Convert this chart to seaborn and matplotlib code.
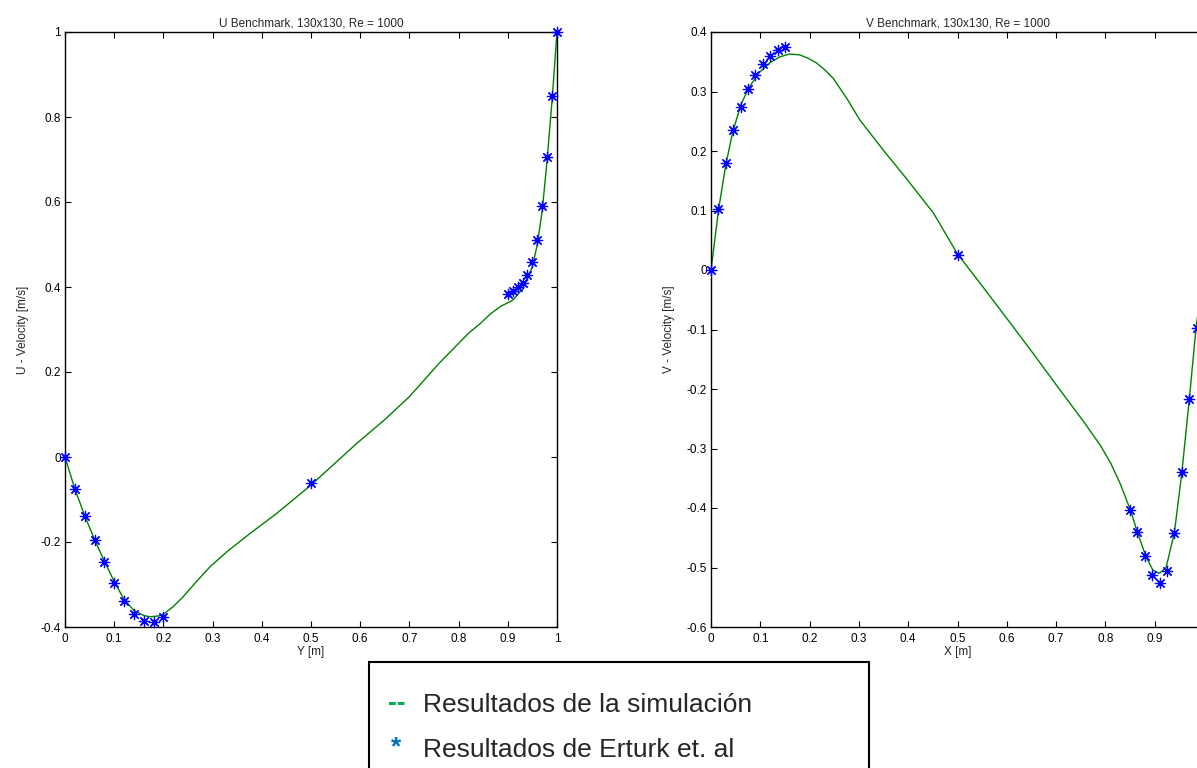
import numpy as np
import pandas as pd
import seaborn as sns
import matplotlib
matplotlib.use("Agg")
import matplotlib.pyplot as plt
from matplotlib.patches import Rectangle
from matplotlib.ticker import FuncFormatter, MultipleLocator

# ---------------- data ----------------
# Erturk et al. benchmark, Re = 1000
u_ref_y = [0.0, 0.02, 0.04, 0.06, 0.08, 0.10, 0.12, 0.14, 0.16, 0.18, 0.20, 0.50,
           0.90, 0.91, 0.92, 0.93, 0.94, 0.95, 0.96, 0.97, 0.98, 0.99, 1.00]
u_ref_val = [0.0, -0.0757, -0.1392, -0.1951, -0.2472, -0.2960, -0.3381, -0.3690,
             -0.3854, -0.3876, -0.3756, -0.0620, 0.3838, 0.3913, 0.3993, 0.4101,
             0.4276, 0.4582, 0.5102, 0.5917, 0.7065, 0.8486, 1.0]
v_ref_x = [0.0, 0.015, 0.03, 0.045, 0.06, 0.075, 0.09, 0.105, 0.12, 0.135, 0.15, 0.5,
           0.85, 0.865, 0.88, 0.895, 0.91, 0.925, 0.94, 0.955, 0.97, 0.985, 1.0]
v_ref_val = [0.0, 0.1019, 0.1792, 0.2349, 0.2746, 0.3041, 0.3273, 0.3460, 0.3605,
             0.3705, 0.3756, 0.0258, -0.4028, -0.4407, -0.4803, -0.5132, -0.5263,
             -0.5052, -0.4417, -0.3400, -0.2173, -0.0973, 0.0]

# simulation (130x130)
u_sim_y = [0.0, 0.02, 0.04, 0.06, 0.08, 0.10, 0.12, 0.14, 0.16, 0.173, 0.19, 0.20,
           0.22, 0.24, 0.265, 0.295, 0.33, 0.376, 0.43, 0.50, 0.593, 0.65, 0.70,
           0.76, 0.82, 0.845, 0.865, 0.885, 0.91, 0.93, 0.95, 0.96, 0.97, 0.98,
           0.99, 1.0]
u_sim_val = [0.0, -0.075, -0.138, -0.194, -0.245, -0.293, -0.335, -0.361, -0.373,
             -0.376, -0.374, -0.370, -0.352, -0.329, -0.296, -0.258, -0.222, -0.180,
             -0.133, -0.066, 0.032, 0.088, 0.142, 0.220, 0.291, 0.315, 0.337, 0.354,
             0.369, 0.395, 0.448, 0.50, 0.58, 0.70, 0.84, 1.0]
v_sim_x = [0.0, 0.0156, 0.0305, 0.0441, 0.061, 0.078, 0.098, 0.119, 0.139, 0.159,
           0.180, 0.197, 0.214, 0.23, 0.248, 0.275, 0.302, 0.349, 0.397, 0.451, 0.5,
           0.553, 0.607, 0.655, 0.702, 0.756, 0.790, 0.811, 0.831, 0.851, 0.865,
           0.882, 0.896, 0.909, 0.923, 0.940, 0.955, 0.970, 0.984, 1.0]
v_sim_val = [0.0, 0.103, 0.179, 0.232, 0.279, 0.308, 0.332, 0.348, 0.358, 0.363,
             0.3615, 0.356, 0.348, 0.337, 0.322, 0.289, 0.252, 0.202, 0.153, 0.096,
             0.027, -0.030, -0.089, -0.142, -0.195, -0.255, -0.295, -0.325, -0.361,
             -0.404, -0.441, -0.481, -0.504, -0.510, -0.5005, -0.441, -0.341, -0.219,
             -0.096, 0.0]

x_ticks = [0, 0.1, 0.2, 0.3, 0.4, 0.5, 0.6, 0.7, 0.8, 0.9, 1.0]

# ---------------- style ----------------
sns.set_style("ticks")
plt.rcParams["font.family"] = ["Liberation Sans", "DejaVu Sans"]
plt.rcParams["xtick.direction"] = "in"
plt.rcParams["ytick.direction"] = "in"
plt.rcParams["xtick.top"] = True
plt.rcParams["ytick.right"] = True

W, H = 1197, 768
fig = plt.figure(figsize=(W / 100, H / 100), dpi=100)
ax1 = fig.add_axes([65 / W, (H - 627) / H, 492 / W, 595 / H])
ax2 = fig.add_axes([711 / W, (H - 627) / H, 493 / W, 595 / H])

LINE_C = (0, 0.5, 0)
MARK_C = (0, 0, 1)
star = (8, 2, 0)

fmt = FuncFormatter(lambda v, p: "%g" % round(v, 3))


def panel(ax, sx, sy, rx, ry, title, xlabel, ylabel, ylim, ystep, xfmt):
    sns.lineplot(x=sx, y=sy, ax=ax, color=LINE_C, linewidth=1.0, sort=False,
                 estimator=None)
    sns.scatterplot(x=rx, y=ry, ax=ax, marker=star, s=55, color=MARK_C,
                    linewidth=0.9, clip_on=False, zorder=5)
    ax.set_xlim(0, 1)
    ax.set_ylim(*ylim)
    ax.set_xticks(x_ticks)
    ax.yaxis.set_major_locator(MultipleLocator(ystep))
    ax.xaxis.set_major_formatter(xfmt)
    ax.yaxis.set_major_formatter(fmt)
    ax.tick_params(length=4, width=0.8, labelsize=8.5, pad=3, colors="black")
    ax.tick_params(axis="x", pad=4)
    for s in ax.spines.values():
        s.set_linewidth(1.0)
        s.set_color("black")
    ax.set_title(title, fontsize=8.5, pad=4)
    ax.set_xlabel(xlabel, fontsize=8.5, labelpad=1)
    ax.set_ylabel(ylabel, fontsize=8.5, labelpad=8)


# the right panel runs past the figure edge, so its last x label is not shown
fmt_cut = FuncFormatter(lambda v, p: "" if v > 0.95 else "%g" % round(v, 3))

panel(ax1, u_sim_y, u_sim_val, u_ref_y, u_ref_val,
      "U Benchmark, 130x130, Re = 1000", "Y [m]", "U - Velocity [m/s]",
      (-0.4, 1.0), 0.2, fmt)
panel(ax2, v_sim_x, v_sim_val, v_ref_x, v_ref_val,
      "V Benchmark, 130x130, Re = 1000", "X [m]", "V - Velocity [m/s]",
      (-0.6, 0.4), 0.1, fmt_cut)

# ---------------- legend box ----------------
fig.patches.append(Rectangle((369 / W, -0.05), 500 / W, (H - 662) / H + 0.05,
                             transform=fig.transFigure, fill=False,
                             edgecolor="black", linewidth=1.5))
fig.text(388 / W, (H - 703) / H, "--", color="#00b050", fontsize=19,
         fontweight="bold", va="center", ha="left")
fig.text(391 / W, (H - 747) / H, "*", color="#0070c0", fontsize=19,
         fontweight="bold", va="center", ha="left")
fig.text(423 / W, (H - 705) / H, "Resultados de la simulación", fontsize=19,
         va="center", ha="left")
fig.text(423 / W, (H - 750) / H, "Resultados de Erturk et. al", fontsize=19,
         va="center", ha="left")

fig.savefig("out.png", dpi=100)
